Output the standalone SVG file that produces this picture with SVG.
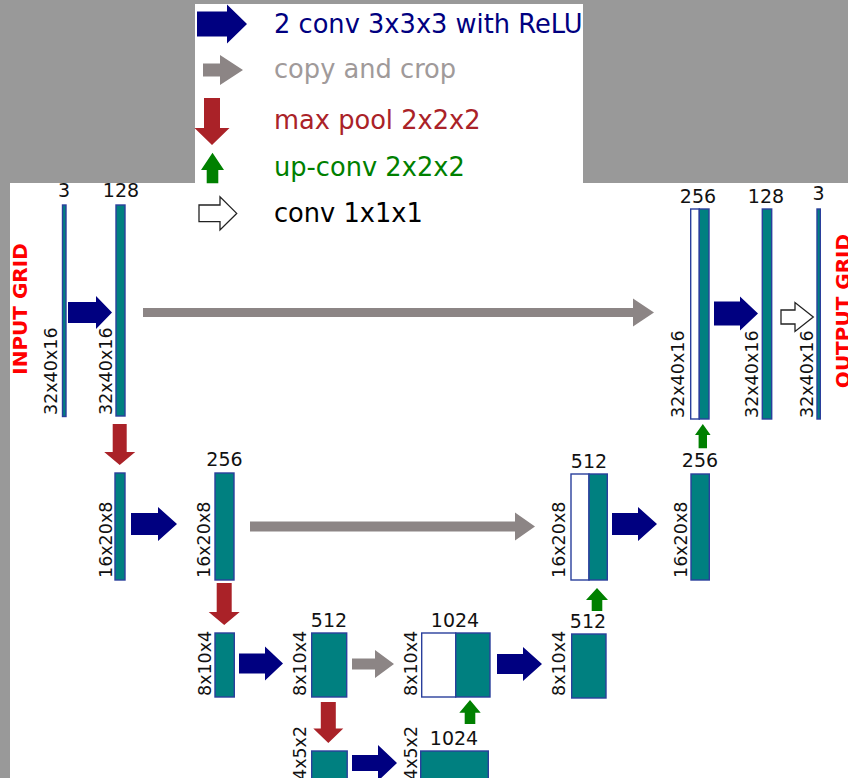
<svg xmlns="http://www.w3.org/2000/svg" width="848" height="778" viewBox="0 0 848 778">
  <style>
    .bg { fill: #999999; }
    .paper { fill: #ffffff; }
    .fm { fill: #008080; stroke: #2a3f9c; stroke-width: 1.4; }
    .cp { fill: #ffffff; stroke: #2a3f9c; stroke-width: 1.4; }
    .conv { fill: #000080; }
    .copy { fill: #8c8585; }
    .pool { fill: #aa2228; }
    .up { fill: #008000; }
    .c1 { fill: #ffffff; stroke: #222222; stroke-width: 1.3; stroke-linejoin: miter; }
    text { font-family: "DejaVu Sans", "Noto Sans", sans-serif; }
    .num { font-size: 19px; fill: #111111; text-anchor: middle; }
    .dim { font-size: 17.5px; fill: #111111; text-anchor: start; }
    .grid { font-size: 20px; font-weight: bold; fill: #ff0000; text-anchor: middle; }
    .leg { font-size: 25.7px; }
  </style>

  <!-- canvas -->
  <rect class="bg" x="0" y="0" width="848" height="778"/>
  <rect class="paper" x="195" y="4" width="388" height="180"/>
  <rect class="paper" x="10" y="183" width="838" height="595"/>

  <!-- legend -->
  <g id="legend">
    <polygon class="conv" points="197,11.5 227,11.5 227,4.5 247,24 227,43.5 227,36.5 197,36.5"/>
    <text class="leg" x="274" y="33" fill="#000080">2 conv 3x3x3 with ReLU</text>
    <polygon class="copy" points="203,63.5 220,63.5 220,55 243,70 220,85 220,76.5 203,76.5"/>
    <text class="leg" x="274" y="77.5" fill="#a09a9a">copy and crop</text>
    <polygon class="pool" points="204,98 220,98 220,128 229.5,128 212,145 194.5,128 204,128"/>
    <text class="leg" x="274" y="128.5" fill="#aa2228">max pool 2x2x2</text>
    <polygon class="up" points="206.7,183.3 206.7,170 201,170 212.5,152.7 224,170 218.3,170 218.3,183.3"/>
    <text class="leg" x="274" y="176" fill="#008000">up-conv 2x2x2</text>
    <polygon class="c1" points="199,205 220,205 220,196.7 236.7,213.4 220,230 220,221.7 199,221.7"/>
    <text class="leg" x="274" y="221.7" fill="#000000">conv 1x1x1</text>
  </g>

  <!-- side captions -->
  <text class="grid" transform="translate(26.5,309) rotate(-90)">INPUT GRID</text>
  <text class="grid" transform="translate(849.5,311) rotate(-90)">OUTPUT GRID</text>

  <!-- level 1: 32x40x16 -->
  <g id="in3">
    <rect class="fm" x="62.5" y="205" width="3.5" height="211.5"/>
    <text class="num" x="64" y="197">3</text>
    <text class="dim" transform="translate(56.5,415) rotate(-90)">32x40x16</text>
  </g>
  <g id="enc1">
    <rect class="fm" x="116" y="205" width="9" height="211"/>
    <text class="num" x="121" y="197">128</text>
    <text class="dim" transform="translate(111.5,415) rotate(-90)">32x40x16</text>
  </g>
  <g id="dec1cat">
    <rect class="cp" x="690.7" y="209" width="8.6" height="210"/>
    <rect class="fm" x="699.3" y="209" width="9.7" height="210"/>
    <text class="num" x="698" y="203">256</text>
    <text class="dim" transform="translate(684,418) rotate(-90)">32x40x16</text>
  </g>
  <g id="dec1">
    <rect class="fm" x="762.3" y="209" width="9.4" height="210"/>
    <text class="num" x="766" y="203">128</text>
    <text class="dim" transform="translate(758,418) rotate(-90)">32x40x16</text>
  </g>
  <g id="out3">
    <rect class="fm" x="817" y="209" width="3.3" height="210"/>
    <text class="num" x="818.5" y="200">3</text>
    <text class="dim" transform="translate(812.5,418) rotate(-90)">32x40x16</text>
  </g>

  <!-- level 2: 16x20x8 -->
  <g id="pool1">
    <rect class="fm" x="115" y="473" width="10" height="107"/>
    <text class="dim" transform="translate(111.5,578) rotate(-90)">16x20x8</text>
  </g>
  <g id="enc2">
    <rect class="fm" x="215" y="473" width="19" height="107"/>
    <text class="num" x="224.5" y="466">256</text>
    <text class="dim" transform="translate(210,578) rotate(-90)">16x20x8</text>
  </g>
  <g id="dec2cat">
    <rect class="cp" x="571" y="474" width="18" height="106"/>
    <rect class="fm" x="589" y="474" width="18.3" height="106"/>
    <text class="num" x="589" y="468">512</text>
    <text class="dim" transform="translate(565,578) rotate(-90)">16x20x8</text>
  </g>
  <g id="dec2">
    <rect class="fm" x="691" y="474" width="18.3" height="106"/>
    <text class="num" x="700" y="467">256</text>
    <text class="dim" transform="translate(686.5,578) rotate(-90)">16x20x8</text>
  </g>

  <!-- level 3: 8x10x4 -->
  <g id="pool2">
    <rect class="fm" x="215" y="633" width="19.3" height="64"/>
    <text class="dim" transform="translate(210.5,696) rotate(-90)">8x10x4</text>
  </g>
  <g id="enc3">
    <rect class="fm" x="311.7" y="633" width="35" height="64"/>
    <text class="num" x="329" y="627">512</text>
    <text class="dim" transform="translate(306,696) rotate(-90)">8x10x4</text>
  </g>
  <g id="dec3cat">
    <rect class="cp" x="421.7" y="633" width="34" height="64"/>
    <rect class="fm" x="455.7" y="633" width="34.3" height="64"/>
    <text class="num" x="455" y="627">1024</text>
    <text class="dim" transform="translate(416.5,696) rotate(-90)">8x10x4</text>
  </g>
  <g id="dec3">
    <rect class="fm" x="571.7" y="634" width="34.3" height="64"/>
    <text class="num" x="588" y="628">512</text>
    <text class="dim" transform="translate(565,696) rotate(-90)">8x10x4</text>
  </g>

  <!-- level 4: 4x5x2 -->
  <g id="pool3">
    <rect class="fm" x="311.7" y="751" width="35.5" height="64"/>
    <text class="dim" transform="translate(306,780) rotate(-90)">4x5x2</text>
  </g>
  <g id="bottom">
    <rect class="fm" x="420.7" y="751" width="67.6" height="64"/>
    <text class="num" x="454" y="745">1024</text>
    <text class="dim" transform="translate(416.5,780) rotate(-90)">4x5x2</text>
  </g>

  <!-- connectors -->
  <g id="connectors">
    <!-- 2 conv 3x3x3 + ReLU -->
    <polygon class="conv" points="68,302 96,302 96,296 112,312.5 96,329 96,323 68,323"/>
    <polygon class="conv" points="714,301.5 740,301.5 740,296.5 758,313.5 740,330.5 740,325.5 714,325.5"/>
    <polygon class="conv" points="131,513 158,513 158,507 177,524 158,541 158,535 131,535"/>
    <polygon class="conv" points="612,513 638,513 638,507 657,524 638,541 638,535 612,535"/>
    <polygon class="conv" points="239,653.5 265,653.5 265,646.5 283,663.5 265,680.5 265,673.5 239,673.5"/>
    <polygon class="conv" points="497,654 523,654 523,647 542,664 523,681 523,674 497,674"/>
    <polygon class="conv" points="352,755 378,755 378,745 397,763 378,781 378,771 352,771"/>
    <!-- copy and crop -->
    <polygon class="copy" points="143,308 633,308 633,298.5 654,312.5 633,326.5 633,317 143,317"/>
    <polygon class="copy" points="250,521.5 515,521.5 515,512.5 535,526.5 515,540.5 515,531.5 250,531.5"/>
    <polygon class="copy" points="352,658.5 375,658.5 375,650 394,664 375,678 375,669.5 352,669.5"/>
    <!-- max pool -->
    <polygon class="pool" points="112.7,424 126.7,424 126.7,452 135.2,452 119.7,465 104.2,452 112.7,452"/>
    <polygon class="pool" points="216.7,583 231.7,583 231.7,612 239.7,612 224.2,625 208.7,612 216.7,612"/>
    <polygon class="pool" points="320.8,702 335.8,702 335.8,728.5 343.3,728.5 328.3,743 313.3,728.5 320.8,728.5"/>
    <!-- up-conv -->
    <polygon class="up" points="698.6,448.3 698.6,435 695,435 702.8,424 710.6,435 707,435 707,448.3"/>
    <polygon class="up" points="591.7,611 591.7,600 586,600 597,588 608,600 602.3,600 602.3,611"/>
    <polygon class="up" points="464.7,724 464.7,712.7 459.3,712.7 470,700 480.7,712.7 475.3,712.7 475.3,724"/>
    <!-- conv 1x1x1 -->
    <polygon class="c1" points="781,310 795,310 795,302.5 813.3,317 795,331.5 795,324 781,324"/>
  </g>
</svg>
